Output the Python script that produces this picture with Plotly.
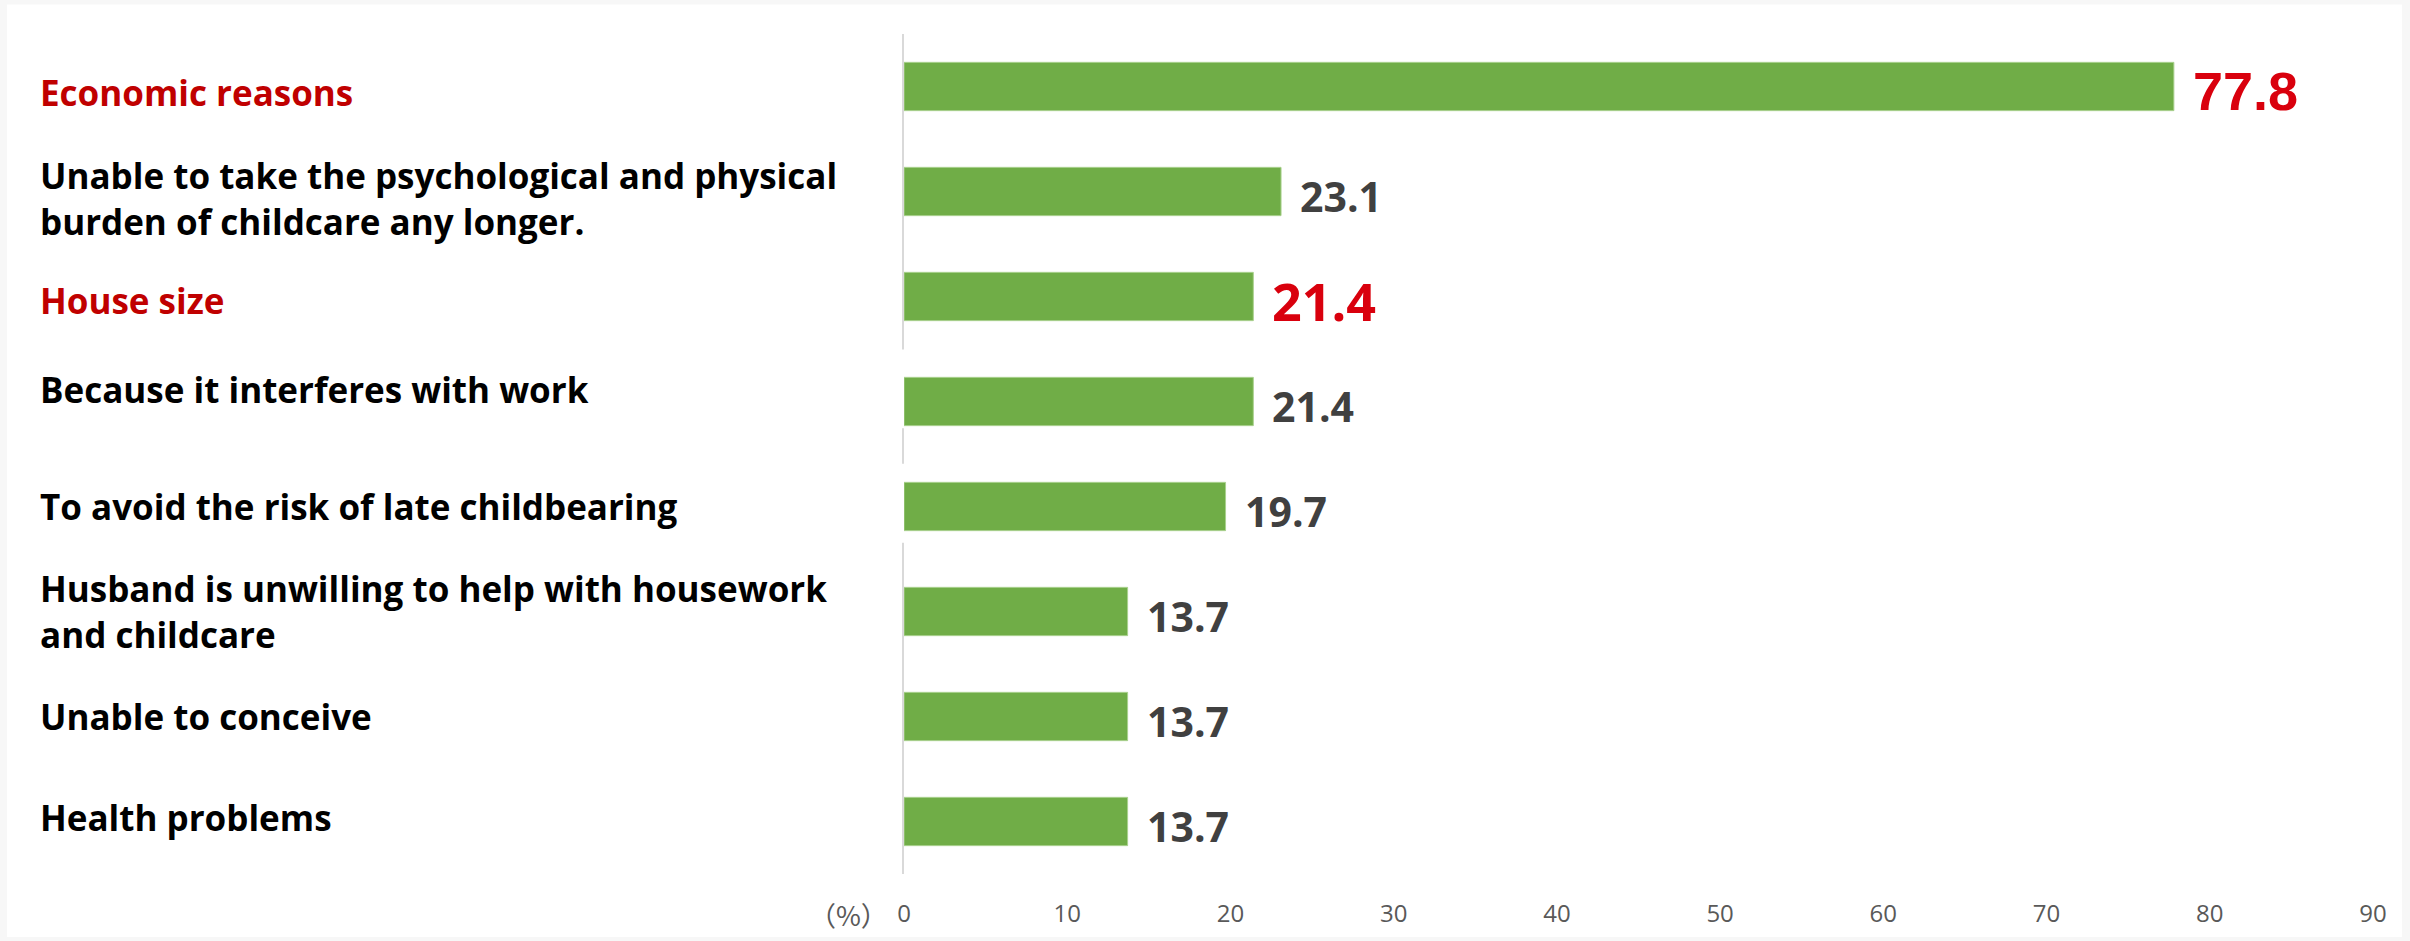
import plotly.graph_objects as go

# ---------------- data ----------------
categories = [
    "Economic reasons",
    "Unable to take the psychological and physical<br>burden of childcare any longer.",
    "House size",
    "Because it interferes with work",
    "To avoid the risk of late childbearing",
    "Husband is unwilling to help with housework<br>and childcare",
    "Unable to conceive",
    "Health problems",
]
values = [77.8, 23.1, 21.4, 21.4, 19.7, 13.7, 13.7, 13.7]
value_texts = ["77.8", "23.1", "21.4", "21.4", "19.7", "13.7", "13.7", "13.7"]
highlighted = [True, False, True, False, False, False, False, False]
tick_values = [0, 10, 20, 30, 40, 50, 60, 70, 80, 90]
tick_labels = ["0", "10", "20", "30", "40", "50", "60", "70", "80", "90"]
unit_label = "（%）"

# ---------------- style ----------------
W, H = 2410, 941
L, R, T, B = 904, 37, 34, 55
PW, PH = W - L - R, H - T - B
BAR_COLOR = "#70AD47"
CAT_RED = "#C00000"
VAL_RED = "#D9000D"
VAL_GRAY = "#404040"
TICK_GRAY = "#595959"
FONT = "Open Sans"

# small per-row vertical nudges (px, positive = down) of category labels
label_nudge = [6, 7, 4, -12, 0, 0, 0, -4]


def px_x(p):
    return (p - L) / PW


def px_y(p):
    return 1 - (p - T) / PH


fig = go.Figure()
fig.add_trace(go.Bar(
    x=values,
    y=categories,
    orientation="h",
    width=0.46,
    marker=dict(color=BAR_COLOR, line=dict(color="#A9D18E", width=1)),
    hoverinfo="x+y",
    showlegend=False,
))

annotations = []
# category labels
for cat, hl, nud in zip(categories, highlighted, label_nudge):
    annotations.append(dict(
        x=px_x(38), xref="paper", y=cat, yref="y",
        xanchor="left", yanchor="middle", align="left",
        text=cat, showarrow=False, yshift=-nud,
        font=dict(family=FONT, size=35, weight="bold",
                  color=CAT_RED if hl else "#000000"),
    ))

# value labels
for i, (cat, v, t, hl) in enumerate(zip(categories, values, value_texts, highlighted)):
    if i == 0:
        f = dict(family="Liberation Sans", size=54, weight="bold", color=VAL_RED)
    elif hl:
        f = dict(family=FONT, size=52, weight="bold", color=VAL_RED)
    else:
        f = dict(family=FONT, size=41, weight="bold", color=VAL_GRAY)
    annotations.append(dict(
        x=v, xref="x", y=cat, yref="y",
        xanchor="left", yanchor="middle",
        text=t, showarrow=False, xshift=17, yshift=-4, font=f,
    ))

# unit label
annotations.append(dict(
    x=0, xref="x", y=0, yref="paper",
    xanchor="right", yanchor="middle",
    text=unit_label, showarrow=False, xshift=-14, yshift=-40,
    font=dict(family="Noto Sans CJK JP", size=27, color=TICK_GRAY),
))

shapes = [
    # white chart card over light gray page
    dict(type="rect", xref="paper", yref="paper",
         x0=px_x(7), x1=px_x(2402), y0=px_y(950), y1=px_y(4),
         fillcolor="white", line=dict(width=0), layer="below"),
]
# vertical axis line (with the gaps seen in the reference)
for y0, y1 in [(34, 354), (434, 470), (550, 886)]:
    shapes.append(dict(type="line", xref="paper", yref="paper",
                       x0=px_x(903), x1=px_x(903), y0=px_y(y1), y1=px_y(y0),
                       line=dict(color="#D9D9D9", width=2), layer="above"))

fig.update_layout(
    width=W, height=H,
    margin=dict(l=L, r=R, t=T, b=B, pad=0),
    paper_bgcolor="#F7F7F7",
    plot_bgcolor="rgba(0,0,0,0)",
    bargap=0.54,
    font=dict(family=FONT),
    xaxis=dict(
        range=[0, 90], tickvals=tick_values, ticktext=tick_labels,
        showgrid=False, zeroline=False, showline=False,
        ticks="", ticklabelstandoff=23,
        tickfont=dict(family=FONT, size=24, color=TICK_GRAY),
        fixedrange=True,
    ),
    yaxis=dict(
        categoryorder="array", categoryarray=categories,
        autorange="reversed", showticklabels=False,
        showgrid=False, zeroline=False, showline=False, ticks="",
        fixedrange=True,
    ),
    annotations=annotations,
    shapes=shapes,
)

fig.write_html(
    "out.html",
    config={"displayModeBar": False},
    post_script="document.body.style.margin='0';"
                "document.body.style.background='#F7F7F7';"
                "document.body.style.overflow='hidden';",
)
